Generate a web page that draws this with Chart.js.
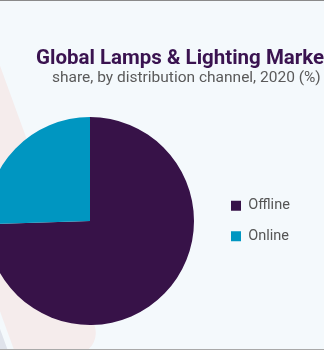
<!DOCTYPE html>
<html>
<head>
<meta charset="utf-8">
<script src="https://cdn.jsdelivr.net/npm/chart.js@4"></script>
<style>
  html, body { margin: 0; padding: 0; background: #f4f9fc; }
  #wrap { position: relative; width: 324px; height: 350px; overflow: hidden; }
  #chart { position: absolute; left: -60px; top: 0; }
</style>
</head>
<body>
<div id="wrap">
  <canvas id="chart" width="384" height="350"></canvas>
</div>
<script>
// =============================
// DATOS
// =============================
const canales = ["Offline", "Online"];
const participacion = [74.5, 25.5];
const colores = ["#371248", "#0096c1"];

const titulo = "Global Lamps & Lighting Market";
const subtitulo = "share, by distribution channel, 2020 (%)";

// el canvas esta corrido 60px a la izquierda
const OFFSET = 60;

// =============================
// PLUGINS
// =============================
// fondo: color, forma rosa diagonal, esquina gris y lineas
const fondo = {
  id: "fondo",
  beforeDraw(chart) {
    const ctx = chart.ctx;
    ctx.save();
    ctx.fillStyle = "#f4f9fc";
    ctx.fillRect(0, 0, chart.width, chart.height);

    ctx.translate(OFFSET + 102, 346);
    ctx.rotate(-20 * Math.PI / 180);
    ctx.fillStyle = "#dfe3eb";
    ctx.beginPath();
    ctx.roundRect(-200, -400, 110, 460, 20);
    ctx.fill();
    ctx.fillStyle = "#f5ecec";
    ctx.beginPath();
    ctx.roundRect(-84, -400, 84, 400, 22);
    ctx.fill();
    ctx.restore();

    ctx.save();
    ctx.fillStyle = "#8a8a8a";
    ctx.fillRect(0, 0, chart.width, 1);
    ctx.fillStyle = "#a9a9a9";
    ctx.fillRect(0, 349, chart.width, 1);
    ctx.restore();
  }
};

// titulo y subtitulo
const textos = {
  id: "textos",
  afterDraw(chart) {
    const ctx = chart.ctx;
    ctx.save();
    ctx.textBaseline = "alphabetic";
    ctx.textAlign = "left";
    ctx.fillStyle = "#3a1350";
    ctx.font = "bold 20.5px Roboto";
    ctx.fillText(titulo, OFFSET + 36, 64);
    ctx.fillStyle = "#5a5a5a";
    ctx.font = "15.5px Roboto";
    ctx.fillText(subtitulo, OFFSET + 52, 82);
    ctx.restore();
  }
};

// ancho fijo para la leyenda
const anchoLeyenda = {
  id: "anchoLeyenda",
  beforeInit(chart) {
    const fitOriginal = chart.legend.fit;
    chart.legend.fit = function () {
      fitOriginal.bind(chart.legend)();
      this.width = 100;
    };
  }
};

// =============================
// GRAFICO
// =============================
new Chart(document.getElementById("chart"), {
  type: "pie",
  data: {
    labels: canales,
    datasets: [{
      data: participacion,
      backgroundColor: colores,
      borderWidth: 0
    }]
  },
  options: {
    responsive: false,
    animation: false,
    layout: {
      padding: { left: 25, right: 9, top: 117, bottom: 25 }
    },
    plugins: {
      tooltip: { enabled: false },
      legend: {
        position: "right",
        align: "center",
        labels: {
          color: "#555",
          font: { family: "Roboto", size: 14.5 },
          boxWidth: 10,
          boxHeight: 10,
          padding: 16
        }
      }
    }
  },
  plugins: [fondo, textos, anchoLeyenda]
});
</script>
</body>
</html>
